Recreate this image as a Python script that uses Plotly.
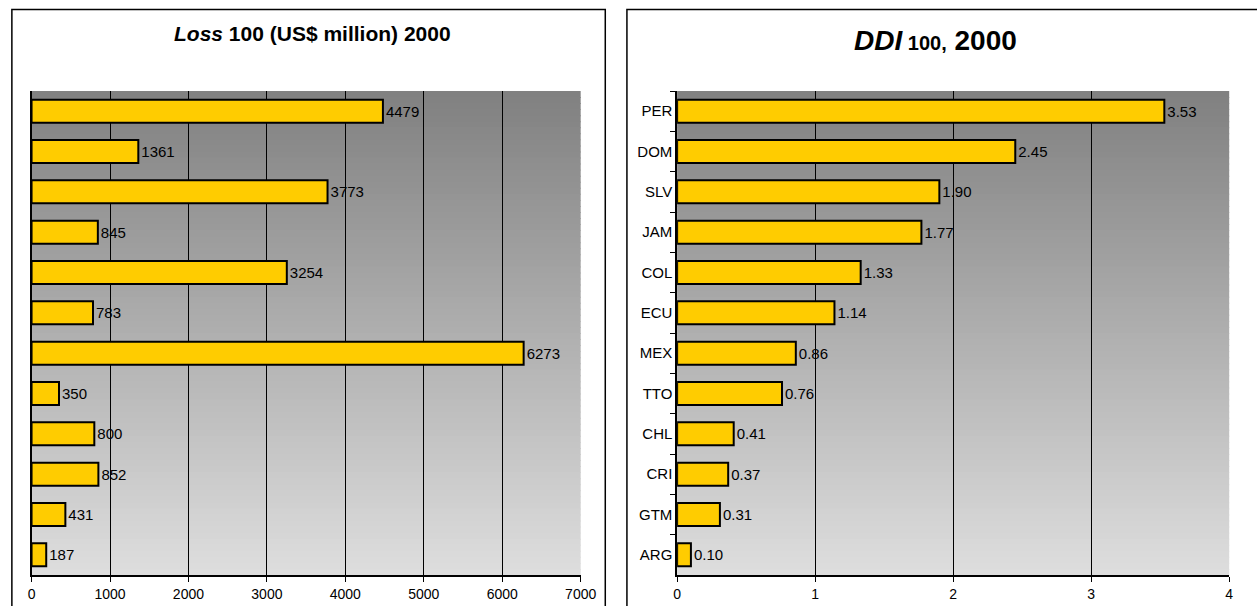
import plotly.graph_objects as go

# ---- data (top to bottom as drawn) ----
countries = ["PER", "DOM", "SLV", "JAM", "COL", "ECU", "MEX", "TTO", "CHL", "CRI", "GTM", "ARG"]
loss100 = [4479, 1361, 3773, 845, 3254, 783, 6273, 350, 800, 852, 431, 187]
ddi100 = [3.53, 2.45, 1.90, 1.77, 1.33, 1.14, 0.86, 0.76, 0.41, 0.37, 0.31, 0.10]
loss_ticks = [0, 1000, 2000, 3000, 4000, 5000, 6000, 7000]
ddi_ticks = [0, 1, 2, 3, 4]

W, H = 1257, 606
FONT = "Arial, Liberation Sans, sans-serif"


def fx(x):
    return x / W


def fy(y):
    return 1 - y / H


fig = go.Figure()

bar_style = dict(
    orientation="h",
    marker=dict(color="#FFCC00", line=dict(color="black", width=2)),
    textposition="outside",
    textfont=dict(family=FONT, size=15, color="black"),
    cliponaxis=False,
    showlegend=False,
    hoverinfo="skip",
)

fig.add_trace(go.Bar(x=loss100, y=countries, texttemplate="%{x:.0f}",
                     xaxis="x", yaxis="y", **bar_style))
fig.add_trace(go.Bar(x=ddi100, y=countries, texttemplate="%{x:.2f}",
                     xaxis="x2", yaxis="y2", **bar_style))

plot_top, plot_bot = 91, 575
xaxis_common = dict(
    showgrid=True, gridcolor="black", gridwidth=1,
    showline=True, linecolor="black", linewidth=1.5,
    ticks="outside", ticklen=5, tickcolor="black",
    tickfont=dict(family=FONT, size=14, color="black"),
    zeroline=False, fixedrange=True,
)
yaxis_common = dict(
    type="category", autorange="reversed",
    showgrid=False, showline=True, linecolor="black", linewidth=1.5,
    zeroline=False, fixedrange=True,
    tickfont=dict(family=FONT, size=15, color="black"),
)

fig.update_layout(
    width=W, height=H, autosize=False,
    margin=dict(l=0, r=0, t=0, b=0),
    paper_bgcolor="white",
    plot_bgcolor="rgba(0,0,0,0)",
    bargap=0.43,
    xaxis=dict(domain=[fx(28), fx(586)], range=[0, 7000], tickvals=loss_ticks,
               anchor="y", **xaxis_common),
    yaxis=dict(domain=[fy(plot_bot), fy(plot_top)], anchor="x",
               showticklabels=False, ticks="", **yaxis_common),
    xaxis2=dict(domain=[fx(684), fx(1245)], range=[0, 4], tickvals=ddi_ticks,
                anchor="y2", **xaxis_common),
    yaxis2=dict(domain=[fy(plot_bot), fy(plot_top)], anchor="x2",
                ticks="outside", ticklen=5, tickcolor="black", tickson="boundaries",
                **yaxis_common),
)

# ---- gradient backgrounds ----
shapes = []
N = 80
top_c, bot_c = 128, 222
for xr, yr in (("x domain", "y domain"), ("x2 domain", "y2 domain")):
    for i in range(N):
        t = (i + 0.5) / N
        c = round(top_c + (bot_c - top_c) * t)
        shapes.append(dict(type="rect", xref=xr, yref=yr, x0=0, x1=1,
                           y0=1 - (i + 1) / N - 0.002, y1=1 - i / N,
                           fillcolor=f"rgb({c},{c},{c})", line=dict(width=0),
                           layer="below"))

# ---- panel frames ----
shapes.append(dict(type="rect", xref="paper", yref="paper",
                   x0=fx(8), x1=fx(611), y0=-0.2, y1=fy(9.5),
                   line=dict(color="black", width=1.5), fillcolor="rgba(0,0,0,0)"))
shapes.append(dict(type="rect", xref="paper", yref="paper",
                   x0=fx(633), x1=1.2, y0=-0.2, y1=fy(9.5),
                   line=dict(color="black", width=1.5), fillcolor="rgba(0,0,0,0)"))
fig.update_layout(shapes=shapes)

# ---- titles ----
fig.add_annotation(xref="paper", yref="paper", x=fx(313), y=fy(33),
                   xanchor="center", yanchor="middle", showarrow=False,
                   text="<b><i>Loss</i> 100 (US$ million) 2000</b>",
                   font=dict(family=FONT, size=21, color="black"))
fig.add_annotation(xref="paper", yref="paper", x=fx(947), y=fy(40),
                   xanchor="center", yanchor="middle", showarrow=False,
                   text="<b><i>DDI</i></b><span style='font-size:20px'><b> 100,</b></span><b> 2000</b>",
                   font=dict(family=FONT, size=28, color="black"))

fig.write_html("out.html", config={"responsive": False, "displayModeBar": False},
               post_script="document.body.style.margin='0';document.body.style.overflow='hidden';")
